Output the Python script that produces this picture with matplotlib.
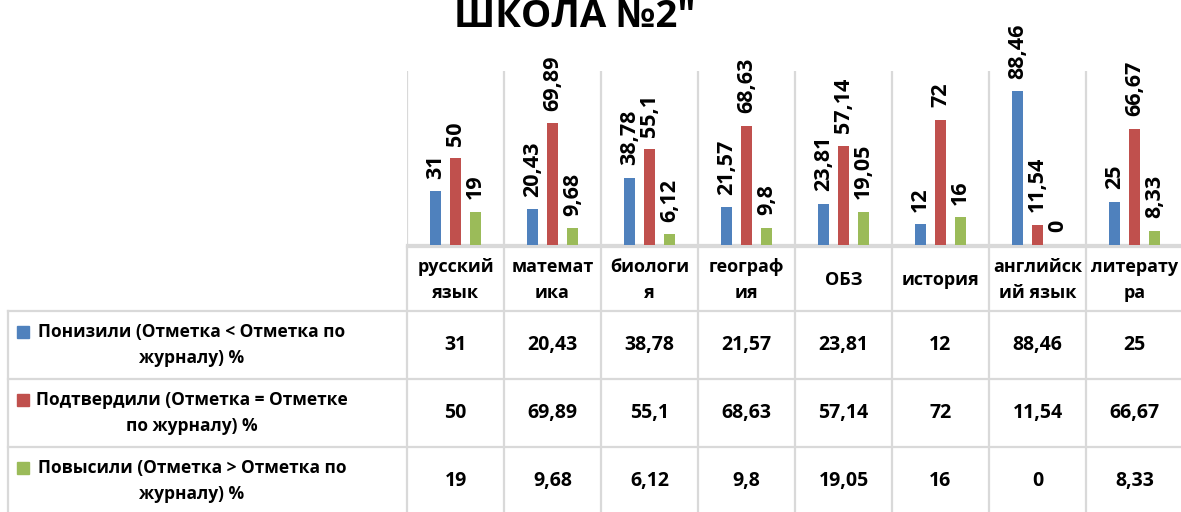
import matplotlib.pyplot as plt
import numpy as np

plt.rcParams['font.family'] = ['Open Sans', 'DejaVu Sans']

# Data
title = 'ШКОЛА №2"'
categories = ['русский\nязык', 'математ\nика', 'биологи\nя', 'географ\nия',
              'ОБЗ', 'история', 'английск\nий язык', 'литерату\nра']
series_names = ['Понизили (Отметка < Отметка по\nжурналу) %',
                'Подтвердили (Отметка = Отметке\nпо журналу) %',
                'Повысили (Отметка > Отметка по\nжурналу) %']
lowered = [31, 20.43, 38.78, 21.57, 23.81, 12, 88.46, 25]
confirmed = [50, 69.89, 55.1, 68.63, 57.14, 72, 11.54, 66.67]
raised = [19, 9.68, 6.12, 9.8, 19.05, 16, 0, 8.33]
colors = ['#4f81bd', '#c0504d', '#9bbb59']
grid_color = '#d9d9d9'


def fmt(v):
    return f"{v:g}".replace('.', ',')


W, H = 1181, 512
fig = plt.figure(figsize=(W / 100, H / 100), dpi=100)

# Bar area: columns are 97 px wide, starting at x=407
col_w = 97
x0 = 407
ax = fig.add_axes([x0 / W, (H - 245) / H, 8 * col_w / W, (245 - 71) / H])
ax.set_xlim(-0.5, 7.5)
ax.set_ylim(0, 100)

x = np.arange(len(categories))
bw = 11 / col_w
step = 20 / col_w
all_series = [lowered, confirmed, raised]
for k, vals in enumerate(all_series):
    pos = x + (k - 1) * step
    ax.bar(pos, vals, width=bw, color=colors[k], zorder=3)
    for xi, v in zip(pos, vals):
        ax.annotate(fmt(v), (xi, v), xytext=(0, 9), textcoords='offset points',
                    rotation=90, ha='center', va='bottom', fontsize=15.5,
                    fontweight='bold', annotation_clip=False)

ax.set_xticks(np.arange(-0.5, 8, 1), minor=True)
ax.grid(which='minor', axis='x', color=grid_color, lw=1.6, zorder=0)
ax.tick_params(which='both', length=0, labelbottom=False, labelleft=False)
for s in ['top', 'left', 'right']:
    ax.spines[s].set_visible(False)
ax.spines['bottom'].set_color(grid_color)
ax.spines['bottom'].set_linewidth(1.6)

# Data table below the bars
row_h = [64, 68, 68, 68]
bounds = np.concatenate([[0], np.cumsum(row_h)])
tab = fig.add_axes([x0 / W, (H - 247 - bounds[-1]) / H, 8 * col_w / W, bounds[-1] / H])
tab.set_xlim(-0.5, 7.5)
tab.set_ylim(bounds[-1], 0)
tab.axis('off')
left = -0.5 - (x0 - 8) / col_w

kw = dict(color=grid_color, lw=1.6, clip_on=False)
tab.plot([-0.5, 7.5], [0, 0], **kw)
for b in bounds[1:]:
    tab.plot([left, 7.5], [b, b], **kw)
for xv in np.arange(-0.5, 8, 1):
    tab.plot([xv, xv], [0, bounds[-1]], **kw)
tab.plot([left, left], [bounds[1], bounds[-1]], **kw)

for i, c in enumerate(categories):
    tab.text(i, row_h[0] / 2 + 1, c, ha='center', va='center', fontsize=13,
             fontweight='bold', linespacing=1.5, clip_on=False)

for k, vals in enumerate(all_series):
    yc = (bounds[k + 1] + bounds[k + 2]) / 2
    for i, v in enumerate(vals):
        tab.text(i, yc, fmt(v), ha='center', va='center', fontsize=14,
                 fontweight='bold', clip_on=False)
    tab.plot([-0.5 - (x0 - 23) / col_w], [yc - 13], marker='s', ms=9,
             color=colors[k], clip_on=False)
    tab.text(-0.5 - (x0 - 192) / col_w, yc, series_names[k], ha='center',
             va='center', multialignment='center', fontsize=12.5,
             fontweight='bold', linespacing=1.55, clip_on=False)

fig.text(575 / W, 1 - 27 / H, title, ha='center', va='baseline',
         fontsize=27.5, fontweight='bold')

fig.savefig('out.png', dpi=100)
